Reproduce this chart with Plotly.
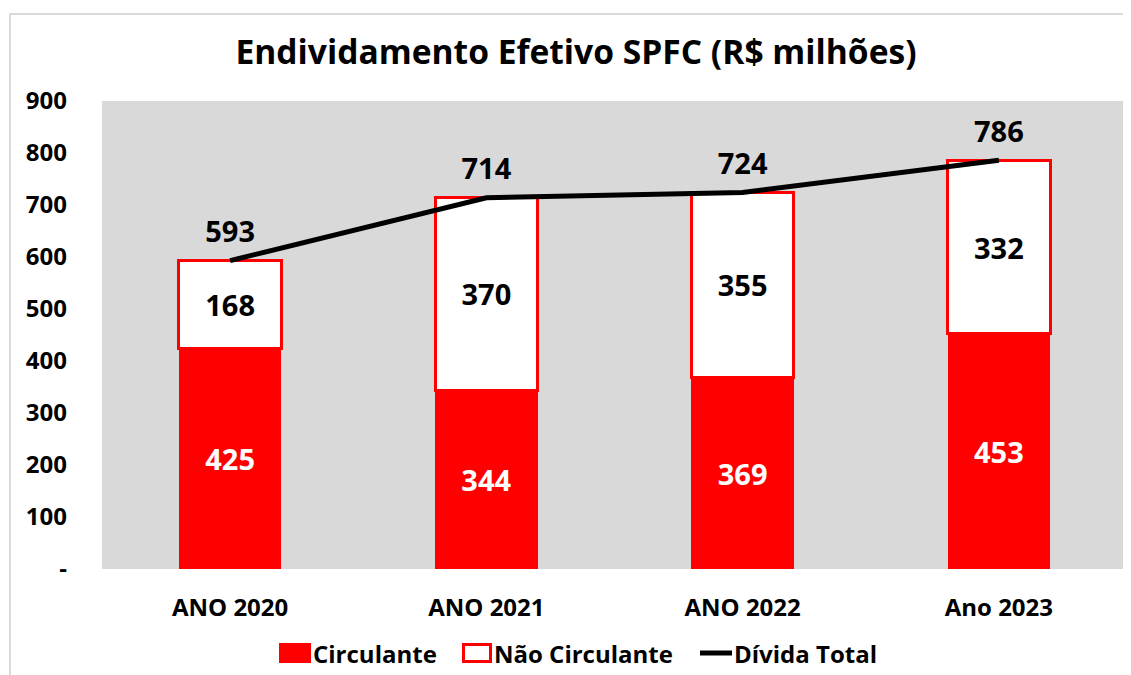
import plotly.graph_objects as go

categories = ["ANO 2020", "ANO 2021", "ANO 2022", "Ano 2023"]
circulante = [425, 344, 369, 453]
nao_circulante = [168, 370, 355, 332]
divida_total = [593, 714, 724, 786]
y_tickvals = [0, 100, 200, 300, 400, 500, 600, 700, 800, 900]
y_ticktext = ["-", "100", "200", "300", "400", "500", "600", "700", "800", "900"]
legend_labels = ["Circulante", "Não Circulante", "Dívida Total"]

FONT = "Open Sans"
RED = "#FF0000"

fig = go.Figure()
fig.add_trace(go.Bar(
    name=legend_labels[0], x=categories, y=circulante,
    marker=dict(color=RED, line=dict(width=0)),
    text=circulante, textposition="inside", insidetextanchor="middle",
    textfont=dict(family=FONT, size=29, color="white", weight="bold"),
    textangle=0,
))
fig.add_trace(go.Bar(
    name=legend_labels[1], x=categories, y=nao_circulante,
    marker=dict(color="white", line=dict(color=RED, width=3)),
    text=nao_circulante, textposition="inside", insidetextanchor="middle",
    textfont=dict(family=FONT, size=29, color="black", weight="bold"),
    textangle=0,
))
fig.add_trace(go.Scatter(
    name=legend_labels[2], x=categories, y=divida_total,
    mode="lines+markers+text",
    line=dict(color="black", width=5),
    marker=dict(size=16, color="rgba(0,0,0,0)"),
    text=divida_total, textposition="top center",
    textfont=dict(family=FONT, size=29, color="black", weight="bold"),
))

# page body has an 8px offset; figure coordinates below are screen coords minus 8
W, H = 1123, 667
L, R, T, B = 94, 1119, 93, 561
pw, ph = R - L, B - T
def px(x): return (x - L) / pw
def py(y): return (B - y) / ph

# chart border
fig.add_shape(type="rect", xref="paper", yref="paper",
              x0=px(2), x1=px(1140), y0=py(690), y1=py(6),
              line=dict(color="#D0D0D0", width=1.5), fillcolor="rgba(0,0,0,0)", layer="below")

# custom legend
ly = 645
fig.add_shape(type="rect", xref="paper", yref="paper",
              x0=px(271), x1=px(303), y0=py(655), y1=py(635),
              line=dict(width=0), fillcolor=RED)
fig.add_shape(type="rect", xref="paper", yref="paper",
              x0=px(455.5), x1=px(482.5), y0=py(653.5), y1=py(636.5),
              line=dict(width=3, color=RED), fillcolor="white")
fig.add_shape(type="line", xref="paper", yref="paper",
              x0=px(692), x1=px(724), y0=py(ly), y1=py(ly),
              line=dict(width=5, color="black"))
for xt, lab in zip([303, 484, 724], legend_labels):
    fig.add_annotation(xref="paper", yref="paper", x=px(xt), y=py(ly),
                       xanchor="left", yanchor="middle", showarrow=False,
                       text=f"<b>{lab}</b>",
                       font=dict(family=FONT, size=24, color="black"))

fig.update_layout(
    width=W, height=H,
    barmode="stack", bargap=0.6,
    paper_bgcolor="white", plot_bgcolor="#D9D9D9",
    margin=dict(l=L, r=W - R, t=T, b=H - B, pad=0),
    title=dict(text="<b>Endividamento Efetivo SPFC (R$ milhões)</b>",
               x=568 / W, xanchor="center", y=1 - 44 / H, yanchor="middle",
               font=dict(family=FONT, size=33.6, color="black")),
    font=dict(family=FONT, color="black"),
    xaxis=dict(showgrid=False, zeroline=False, showline=False,
               tickfont=dict(family=FONT, size=24, color="black", weight="bold"),
               ticks="", ticklabelstandoff=22),
    yaxis=dict(range=[0, 900], tickvals=y_tickvals, ticktext=y_ticktext,
               showgrid=False, zeroline=False, showline=False, ticks="",
               tickfont=dict(family=FONT, size=24, color="black", weight="bold"),
               ticklabelstandoff=34),
    showlegend=False,
)

fig.write_html("out.html")
